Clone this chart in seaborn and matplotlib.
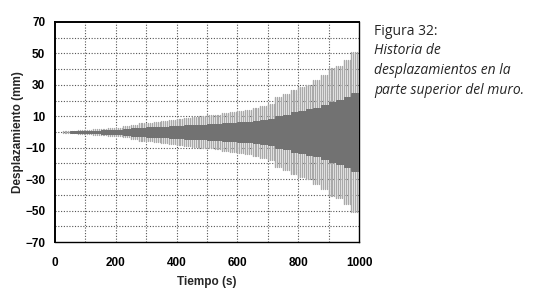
########################################################
# Required Python Packages
########################################################
import numpy as np
import pandas as pd
import seaborn as sns
import matplotlib
matplotlib.use("Agg")
import matplotlib.pyplot as plt

########################################################
# Data
# block_start : start time (s) of each loading block
# outer_amp   : peak displacement (mm) of the large cycles in the block
# inner_amp   : peak displacement (mm) of the dense small cycles
########################################################
block_start = [0, 25, 50, 75, 100, 125, 150, 175, 200, 225,
               250, 275, 300, 325, 350, 375, 400, 425, 450, 475,
               500, 525, 550, 575, 600, 625, 650, 675, 700, 725,
               750, 775, 800, 825, 850, 875, 900, 925, 950, 975]
outer_amp = [0.3, 0.5, 0.8, 1.0, 1.3, 1.6, 2.0, 2.4, 2.8, 3.5,
             4.5, 5.5, 6.0, 6.5, 7.0, 7.5, 8.5, 9.0, 9.5, 10.0,
             10.5, 11.0, 12.0, 12.5, 13.5, 14.0, 15.0, 16.5, 18.0, 22.5,
             24.0, 27.0, 28.5, 30.0, 33.0, 36.0, 41.0, 42.0, 46.0, 51.0]
inner_amp = [0.1, 0.2, 0.4, 0.5, 0.7, 0.9, 1.1, 1.3, 1.5, 2.0,
             2.5, 2.8, 3.0, 3.2, 3.4, 3.7, 4.0, 4.2, 4.4, 4.6,
             4.8, 5.0, 5.5, 5.8, 6.2, 6.5, 7.0, 7.5, 8.0, 10.0,
             11.0, 12.5, 13.5, 14.5, 15.5, 17.0, 19.0, 20.5, 22.5, 25.0]

x_ticks = [0, 200, 400, 600, 800, 1000]
y_ticks = [-70, -50, -30, -10, 10, 30, 50, 70]

caption_title = "Figura 32:"
caption_lines = ["Historia de", "desplazamientos en la", "parte superior del muro."]

########################################################
# Build cycles: one vertical stroke per cycle, amplitude of its block
########################################################
def BuildCycles(step, amps):
    rows = []
    n = 0
    for i, t0 in enumerate(block_start):
        for t in np.arange(t0, t0 + 25, step):
            rows.append((t, -amps[i], n))
            rows.append((t, amps[i], n))
            n += 1
    return pd.DataFrame(rows, columns=["t", "d", "cycle"])

outer_df = BuildCycles(6.25, outer_amp)
inner_df = BuildCycles(1.0, inner_amp)

########################################################
# Plot
########################################################
sns.set_style("white")
plt.rcParams["font.family"] = ["Liberation Sans", "DejaVu Sans"]

fig = plt.figure(figsize=(5.4, 2.93), dpi=100)
ax = fig.add_axes([0.102, 0.174, 0.563, 0.751])

# grid first so the signal sits on top
for y in range(-60, 70, 10):
    ax.axhline(y, color="#555555", lw=0.8, ls=(0, (1, 1.5)), zorder=0)
for x in range(100, 1000, 100):
    ax.axvline(x, color="#555555", lw=0.8, ls=(0, (1, 1.5)), zorder=0)

sns.lineplot(data=outer_df, x="t", y="d", units="cycle", estimator=None,
             color="#a9a9a9", lw=1.0, ax=ax, zorder=2)
sns.lineplot(data=inner_df, x="t", y="d", units="cycle", estimator=None,
             color="#727272", lw=0.7, ax=ax, zorder=3)

ax.set_xlim(0, 1000)
ax.set_ylim(-70, 70)
ax.set_xticks(x_ticks)
ax.set_yticks(y_ticks)
ax.tick_params(axis="both", direction="out", length=3, width=0.8,
               labelsize=8.5, colors="black")
ax.tick_params(axis="x", pad=8)
ax.tick_params(axis="y", pad=4)
for lbl in ax.get_xticklabels() + ax.get_yticklabels():
    lbl.set_fontweight("bold")

ax.set_xlabel("Tiempo (s)", fontsize=8.5, fontweight="bold", labelpad=5)
ax.set_ylabel("Desplazamiento (mm)", fontsize=8.5, fontweight="bold", labelpad=1)

for side in ["left", "bottom", "top", "right"]:
    ax.spines[side].set_color("black")
    ax.spines[side].set_linewidth(1.0)
ax.spines["left"].set_linewidth(1.4)
ax.spines["top"].set_linewidth(1.4)

# caption to the right
fig.text(374 / 540, 1 - 35 / 293, caption_title, fontsize=10,
         family="Open Sans", va="baseline", ha="left")
for i, line in enumerate(caption_lines):
    fig.text(374 / 540, 1 - (54.5 + i * 19.5) / 293, line, fontsize=10,
             family="Open Sans", style="italic", va="baseline", ha="left")

fig.savefig("out.png", dpi=100)
